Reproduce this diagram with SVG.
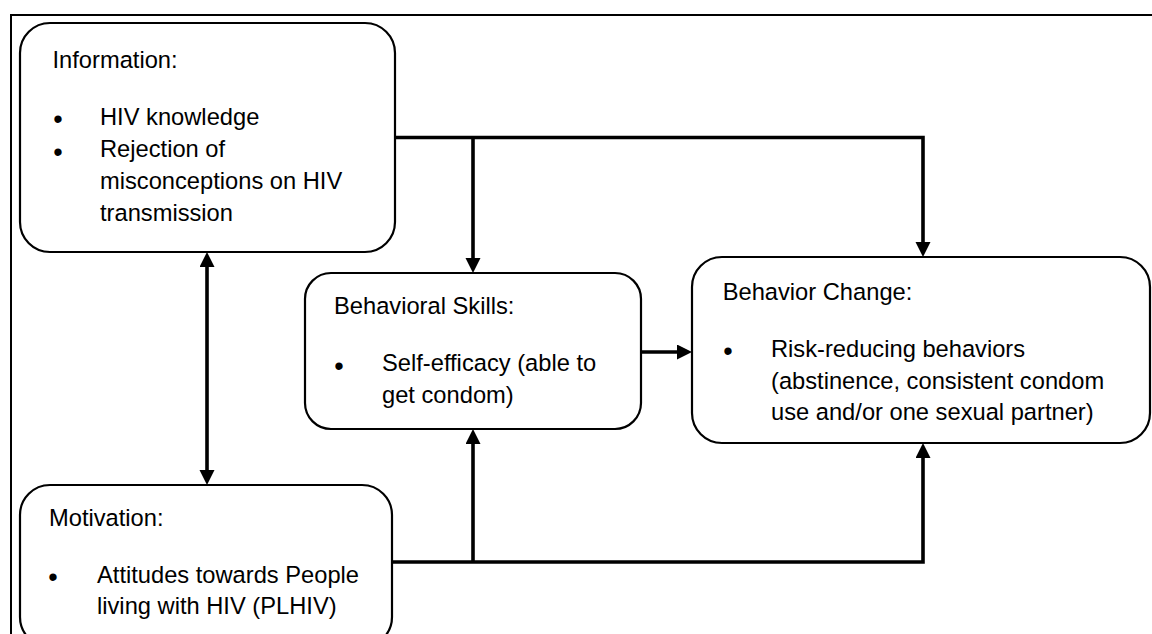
<svg xmlns="http://www.w3.org/2000/svg" width="1152" height="634" viewBox="0 0 1152 634">
<style>
.box{fill:#fff;stroke:#000;stroke-width:2.2}
.t{font-family:"Liberation Sans",Arial,sans-serif;font-size:23.7px;fill:#000}
.b{font-family:"Liberation Sans",Arial,sans-serif;font-size:27px;fill:#000;text-anchor:middle}
.c{fill:none;stroke:#000;stroke-width:3.6}
</style>
<defs>
<marker id="ah" markerUnits="userSpaceOnUse" markerWidth="16" markerHeight="16" refX="0" refY="7.5" orient="auto-start-reverse">
<path d="M0,0 L15,7.5 L0,15 z" fill="#000"/>
</marker>
</defs>
<rect x="11" y="15" width="1200" height="700" fill="#fff" stroke="#000" stroke-width="2"/>
<g id="connectors">
<path class="c" d="M207,267 V470" marker-start="url(#ah)" marker-end="url(#ah)"/>
<path class="c" d="M395,137.5 H923 V242" marker-end="url(#ah)"/>
<path class="c" d="M473,137.5 V258" marker-end="url(#ah)"/>
<path class="c" d="M641,352 H677" marker-end="url(#ah)"/>
<path class="c" d="M392,562 H923 V458" marker-end="url(#ah)"/>
<path class="c" d="M473,562 V444" marker-end="url(#ah)"/>
</g>
<g id="information">
<rect class="box" x="20" y="23" width="375" height="229" rx="30"/>
<text class="t" x="52.5" y="68">Information:</text>
<text class="b" x="58" y="128">•</text>
<text class="t" x="100" y="125">HIV knowledge</text>
<text class="b" x="58" y="160.5">•</text>
<text class="t" x="100" y="157">Rejection of</text>
<text class="t" x="100" y="189">misconceptions on HIV</text>
<text class="t" x="100" y="221">transmission</text>
</g>
<g id="motivation">
<rect class="box" x="20" y="485" width="372" height="162" rx="30"/>
<text class="t" x="49" y="526">Motivation:</text>
<text class="b" x="53" y="585.6">•</text>
<text class="t" x="97" y="583">Attitudes towards People</text>
<text class="t" x="97" y="614">living with HIV (PLHIV)</text>
</g>
<g id="behavioral-skills">
<rect class="box" x="305" y="273" width="336" height="156" rx="26"/>
<text class="t" x="334" y="314">Behavioral Skills:</text>
<text class="b" x="339" y="375.3">•</text>
<text class="t" x="382" y="371">Self-efficacy (able to</text>
<text class="t" x="382" y="403">get condom)</text>
</g>
<g id="behavior-change">
<rect class="box" x="692" y="257" width="458" height="186" rx="30"/>
<text class="t" x="722.7" y="300">Behavior Change:</text>
<text class="b" x="728" y="359.6">•</text>
<text class="t" x="771" y="357">Risk-reducing behaviors</text>
<text class="t" x="771" y="389">(abstinence, consistent condom</text>
<text class="t" x="771" y="420">use and/or one sexual partner)</text>
</g>
</svg>
